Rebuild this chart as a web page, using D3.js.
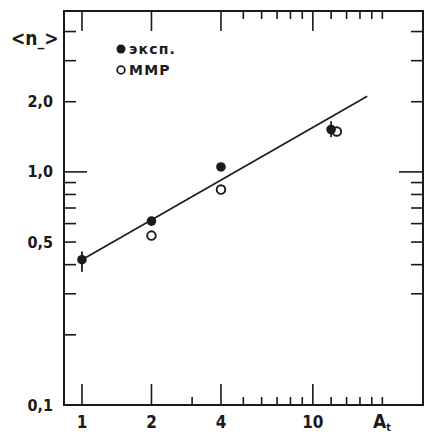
<!DOCTYPE html>
<html>
<head>
<meta charset="utf-8">
<script src="https://cdn.jsdelivr.net/npm/d3@7"></script>
<style>
  html, body { margin: 0; padding: 0; background: #fff; }
  text { font-family: "DejaVu Sans Condensed", "DejaVu Sans", sans-serif; font-weight: bold; fill: #1a1a1a; }
</style>
</head>
<body>
<svg id="chart" width="425" height="434"></svg>
<script>
"use strict";

// experiment (filled) and model (open) points
const expA     = [1, 2, 4, 12];
const expN     = [0.42, 0.615, 1.05, 1.52];
const expErrLo = [0.373, null, null, 1.41];
const expErrHi = [0.455, null, null, 1.65];

const mmpA = [2, 4, 12.7];
const mmpN = [0.533, 0.84, 1.49];

// fitted line end points
const fitA = [1, 17.2];
const fitN = [0.42, 2.11];

// ticks
const xMajor = [1, 2, 4, 10];
const xMinorBottom = [3, 5, 6, 7, 8, 9, 12, 14, 16, 18, 20];
const xMinorTop    = [5, 6, 7, 8, 9, 12, 14, 16, 18, 20];
const xLabels = ['1', '2', '4', '10'];
const yMajor = [1];
const yMinorLeft  = [0.2, 0.3, 0.4, 0.5, 0.6, 0.7, 0.8, 0.9, 2, 3, 4];
const yMinorRight = [0.3, 0.4, 0.5, 0.6, 0.7, 0.8, 0.9, 2, 3, 4];
const yLabelVals = [0.1, 0.5, 1, 2];
const yLabels = ['0,1', '0,5', '1,0', '2,0'];

const ink = '#1a1a1a';
const margin = { left: 64, right: 2, top: 11, bottom: 29 };
const W = 425, H = 434;

const svg = d3.select('#chart');

const x = d3.scaleLog().domain([0.836, 30]).range([margin.left, W - margin.right]);
const y = d3.scaleLog().domain([0.1, 4.9]).range([H - margin.bottom, margin.top]);

const x0 = x.range()[0], x1 = x.range()[1];
const y0 = y.range()[0], y1 = y.range()[1];

// frame
svg.append('rect')
   .attr('x', x0).attr('y', y1)
   .attr('width', x1 - x0).attr('height', y0 - y1)
   .style('fill', 'none').style('stroke', ink).style('stroke-width', 2);

// tick helper
const ticks = svg.append('g').style('stroke', ink).style('stroke-width', 1.6);
const hTick = (vals, xs, len) => ticks.selectAll(null).data(vals).enter().append('line')
    .attr('x1', xs).attr('x2', xs + len)
    .attr('y1', d => y(d)).attr('y2', d => y(d));
const vTick = (vals, ys, len) => ticks.selectAll(null).data(vals).enter().append('line')
    .attr('y1', ys).attr('y2', ys + len)
    .attr('x1', d => x(d)).attr('x2', d => x(d));

hTick(yMajor, x0, 23);
hTick(yMinorLeft, x0, 12);
hTick(yMajor, x1, -24);
hTick(yMinorRight, x1, -12);
vTick(xMajor, y0, -21);
vTick(xMinorBottom, y0, -8);
vTick(xMajor, y1, 20);
vTick(xMinorTop, y1, 8);

// tick labels
svg.append('g').selectAll('text').data(yLabelVals).enter().append('text')
   .attr('x', 53).attr('y', d => y(d))
   .attr('text-anchor', 'end').attr('dominant-baseline', 'central')
   .style('font-size', '16px')
   .text((d, i) => yLabels[i]);

svg.append('g').selectAll('text').data(xMajor).enter().append('text')
   .attr('x', d => x(d)).attr('y', 428)
   .attr('text-anchor', 'middle')
   .style('font-size', '17px')
   .text((d, i) => xLabels[i]);

// axis titles
const yt = svg.append('text').attr('x', 11).attr('y', 45).style('font-size', '19px');
yt.append('tspan').text('<n');
yt.append('tspan').attr('dy', 1).style('font-size', '15px').text('_');
yt.append('tspan').attr('dy', -1).text('>');

const xt = svg.append('text').attr('x', 373).attr('y', 428).style('font-size', '19px');
xt.append('tspan').text('A');
xt.append('tspan').attr('dy', 3).style('font-size', '11px').text('t');

// fitted line
svg.append('path')
   .datum(fitA.map((a, i) => [a, fitN[i]]))
   .attr('d', d3.line().x(d => x(d[0])).y(d => y(d[1])))
   .style('fill', 'none').style('stroke', ink).style('stroke-width', 1.6);

// error bars
svg.append('g').selectAll('line')
   .data(expA.map((a, i) => ({ a, lo: expErrLo[i], hi: expErrHi[i] })).filter(d => d.lo !== null))
   .enter().append('line')
   .attr('x1', d => x(d.a)).attr('x2', d => x(d.a))
   .attr('y1', d => y(d.lo)).attr('y2', d => y(d.hi))
   .style('stroke', ink).style('stroke-width', 1.8);

// model points (open)
svg.append('g').selectAll('circle').data(mmpA).enter().append('circle')
   .attr('cx', d => x(d)).attr('cy', (d, i) => y(mmpN[i])).attr('r', 4.3)
   .style('fill', '#fff').style('stroke', ink).style('stroke-width', 1.9);

// experimental points (filled)
svg.append('g').selectAll('circle').data(expA).enter().append('circle')
   .attr('cx', d => x(d)).attr('cy', (d, i) => y(expN[i])).attr('r', 4.8)
   .style('fill', ink);

// legend
const lg = svg.append('g');
lg.append('circle').attr('cx', 121).attr('cy', 49).attr('r', 4.5).style('fill', ink);
lg.append('circle').attr('cx', 121).attr('cy', 70).attr('r', 3.8)
  .style('fill', '#fff').style('stroke', ink).style('stroke-width', 1.8);
lg.append('text').attr('x', 129).attr('y', 49).attr('dominant-baseline', 'central')
  .style('font-family', '"DejaVu Sans", sans-serif')
  .style('font-size', '14px').style('letter-spacing', '1.2px').text('эксп.');
lg.append('text').attr('x', 129).attr('y', 70).attr('dominant-baseline', 'central')
  .style('font-family', '"DejaVu Sans", sans-serif')
  .style('font-size', '14px').style('letter-spacing', '1.2px').text('MMP');
</script>
</body>
</html>
